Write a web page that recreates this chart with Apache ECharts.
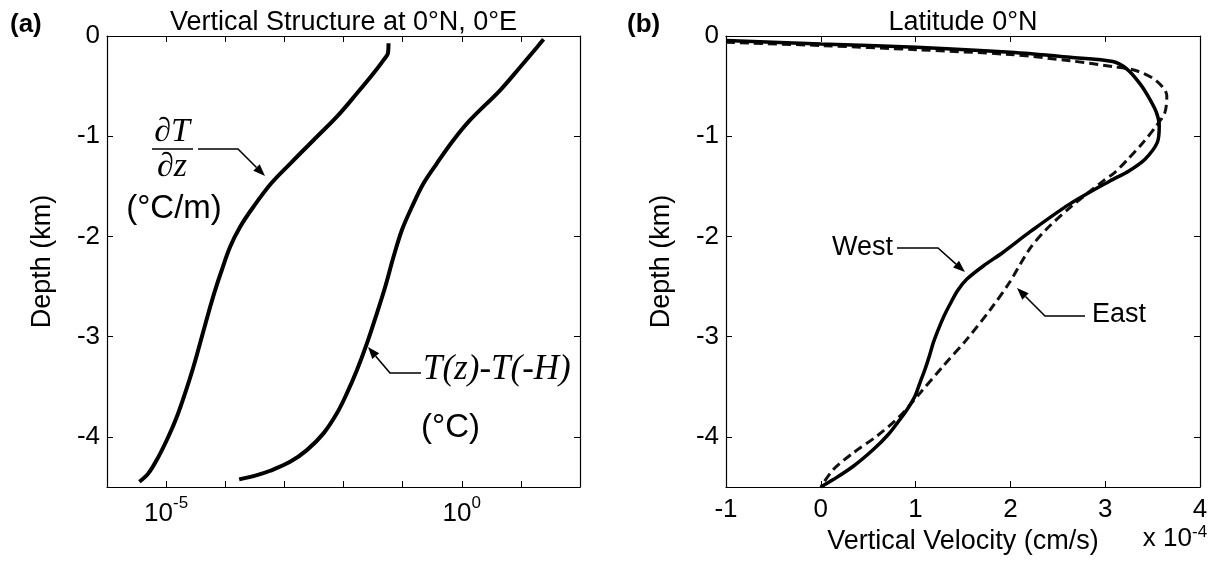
<!DOCTYPE html>
<html>
<head>
<meta charset="utf-8">
<title>Vertical structure and vertical velocity at the equator</title>
<script src="https://cdn.jsdelivr.net/npm/echarts@6/dist/echarts.min.js"></script>
<style>
  html, body { margin: 0; padding: 0; background: #fff; }
  #chart { width: 1217px; height: 565px; }
</style>
</head>
<body>
<div id="chart"></div>
<script>
// ---- Panel (a): vertical structure at 0°N, 0°E (depth in km) ----
const depthGrad = [-0.073, -0.173, -0.240, -0.372, -0.572, -0.805, -1.005, -1.270, -1.470, -1.704,
  -1.903, -2.103, -2.335, -2.535, -2.702, -3.001, -3.300, -3.566, -3.799, -3.999, -4.199, -4.364, -4.448];
// dT/dz in °C/m
const gradT = [5.77e-2, 5.64e-2, 4.75e-2, 3.22e-2, 1.69e-2, 7.73e-3, 3.55e-3, 1.27e-3, 6.0e-4, 3.00e-4,
  1.79e-4, 1.21e-4, 8.75e-5, 6.75e-5, 5.56e-5, 4.02e-5, 2.90e-5, 2.09e-5, 1.52e-5, 1.09e-5, 7.41e-6, 5.01e-6, 3.53e-6];

const depthTemp = [-0.033, -0.110, -0.309, -0.539, -0.838, -1.038, -1.270, -1.470, -1.704, -1.936,
  -2.203, -2.502, -2.767, -3.067, -3.333, -3.566, -3.765, -3.965, -4.132, -4.249, -4.338, -4.381, -4.424];
// T(z) - T(-H) in °C
const deltaT = [24.2, 18.9, 9.77, 4.49, 1.39, 0.726, 0.380, 0.226, 0.144, 0.0973,
  0.0702, 0.0508, 0.0367, 0.0249, 0.0169, 0.0114, 7.73e-3, 4.59e-3, 2.40e-3, 1.25e-3, 5.75e-4, 3.43e-4, 1.72e-4];

// ---- Panel (b): vertical velocity along latitude 0°N (units of 1e-4 cm/s) ----
const depthWest = [-0.045, -0.080, -0.113, -0.163, -0.213, -0.255, -0.330, -0.480, -0.629, -0.762,
  -0.896, -1.062, -1.229, -1.346, -1.446, -1.680, -1.945, -2.160, -2.295, -2.428, -2.544, -2.677,
  -2.794, -2.927, -3.060, -3.194, -3.327, -3.460, -3.593, -3.709, -3.826, -3.976, -4.126, -4.293,
  -4.426, -4.500];
const wWest = [-1.0, 0.0, 1.01, 2.0, 2.63, 3.08, 3.23, 3.37, 3.47, 3.54,
  3.57, 3.55, 3.42, 3.25, 3.05, 2.62, 2.22, 1.92, 1.714, 1.539, 1.44, 1.363,
  1.30, 1.24, 1.187, 1.145, 1.099, 1.046, 0.994, 0.923, 0.835, 0.712, 0.554, 0.343,
  0.132, 0.0];

const depthEast = [-0.063, -0.095, -0.137, -0.185, -0.247, -0.305, -0.347, -0.447, -0.596, -0.762,
  -0.896, -1.062, -1.229, -1.362, -1.446, -1.695, -1.928, -2.128, -2.460, -2.727, -3.027, -3.294,
  -3.559, -3.793, -3.993, -4.159, -4.326, -4.500];
const wEast = [-1.0, 0.0, 1.01, 2.0, 2.63, 3.08, 3.33, 3.54, 3.65, 3.63,
  3.54, 3.40, 3.24, 3.10, 2.98, 2.65, 2.38, 2.20, 1.99, 1.79, 1.54, 1.29,
  1.05, 0.835, 0.59, 0.343, 0.132, 0.0];

// Tick marks and labels
const depthTicks = [0, -1, -2, -3, -4];
const logLabelExponents = [-5, 0];

const SANS = '"Liberation Sans", Arial, Helvetica, sans-serif';
const SERIF = '"Liberation Serif", "Times New Roman", serif';

const GA = { left: 107, top: 36, width: 473, height: 451 };
const GB = { left: 726, top: 36, width: 474, height: 451 };

const zip = (xs, ys) => xs.map((x, i) => [x, ys[i]]);

const tickStyle = { show: true, inside: true, length: 6, lineStyle: { color: '#000', width: 1 } };
const lineStyle = { show: true, onZero: false, lineStyle: { color: '#000', width: 1.2 } };
const labelStyle = { color: '#000', fontSize: 26, fontFamily: SANS };
const nameStyle = { color: '#000', fontSize: 27, fontFamily: SANS };

function depthAxis(gridIndex, position, withLabels) {
  return {
    gridIndex, type: 'value', position, min: -4.5, max: 0,
    axisLine: lineStyle,
    axisTick: Object.assign({}, tickStyle, { customValues: depthTicks }),
    axisLabel: Object.assign({}, labelStyle, { show: withLabels, margin: 7, customValues: depthTicks }),
    splitLine: { show: false },
    name: withLabels ? 'Depth (km)' : '',
    nameLocation: 'middle', nameRotate: 90, nameGap: 51,
    nameTextStyle: nameStyle
  };
}

function logAxis(position, withLabels) {
  return {
    gridIndex: 0, type: 'log', logBase: 10, position, min: 1e-6, max: 1e2, splitNumber: 8,
    axisLine: lineStyle,
    axisTick: tickStyle,
    minorTick: { show: false },
    splitLine: { show: false },
    axisLabel: {
      show: withLabels, margin: 8, color: '#000', fontFamily: SANS,
      formatter: v => {
        const e = Math.round(Math.log10(v));
        return logLabelExponents.includes(e) ? '{b|10}{s|' + e + '}' : '';
      },
      rich: {
        b: { fontSize: 26, fontFamily: SANS, color: '#000', lineHeight: 32, verticalAlign: 'bottom' },
        s: { fontSize: 17, fontFamily: SANS, color: '#000', lineHeight: 17, verticalAlign: 'top' }
      }
    }
  };
}

function velocityAxis(position, withLabels) {
  return {
    gridIndex: 1, type: 'value', position, min: -1, max: 4, interval: 1,
    axisLine: lineStyle,
    axisTick: tickStyle,
    splitLine: { show: false },
    axisLabel: Object.assign({}, labelStyle, { show: withLabels, margin: 10 }),
    name: withLabels ? 'Vertical Velocity (cm/s)' : '',
    nameLocation: 'middle', nameGap: 40,
    nameTextStyle: nameStyle
  };
}

// Callout arrow: polyline ending in a filled head at the last point
function arrow(pts) {
  const n = pts.length;
  const [x1, y1] = pts[n - 2], [x2, y2] = pts[n - 1];
  const L = Math.hypot(x2 - x1, y2 - y1), ux = (x2 - x1) / L, uy = (y2 - y1) / L;
  const hl = 12, hw = 4.5;
  const bx = x2 - ux * hl, by = y2 - uy * hl;
  return [
    { type: 'polyline', silent: true, shape: { points: pts.slice(0, n - 1).concat([[bx, by]]) },
      style: { stroke: '#000', lineWidth: 1.6, fill: null } },
    { type: 'polygon', silent: true, shape: { points: [[x2, y2], [bx - uy * hw, by + ux * hw], [bx + uy * hw, by - ux * hw]] },
      style: { fill: '#000' } }
  ];
}

function label(x, y, text, font, align) {
  return { type: 'text', silent: true, x, y,
    style: { text, font, fill: '#000', align: align || 'center', verticalAlign: 'middle' } };
}

const graphics = [
  label(10, 25, '(a)', 'bold 26px ' + SANS, 'left'),
  label(627, 25, '(b)', 'bold 26px ' + SANS, 'left'),
  label(GA.left + GA.width / 2, 23, 'Vertical Structure at 0°N, 0°E', '27px ' + SANS),
  label(GB.left + GB.width / 2, 23, 'Latitude 0°N', '27px ' + SANS),
  // dT/dz callout
  label(172, 132, '∂T', 'italic 34px ' + SERIF),
  { type: 'line', silent: true, shape: { x1: 152, y1: 149, x2: 193, y2: 149 }, style: { stroke: '#000', lineWidth: 1.6 } },
  label(172, 167, '∂z', 'italic 34px ' + SERIF),
  label(174, 209, '(°C/m)', '33px ' + SANS),
  ...arrow([[198, 149], [238, 149], [265, 176]]),
  // T(z)-T(-H) callout
  label(423, 370, 'T(z)-T(-H)', 'italic 35px ' + SERIF, 'left'),
  label(421, 428, '(°C)', '33px ' + SANS, 'left'),
  ...arrow([[421, 373], [390, 373], [368, 347]]),
  // West / East callouts
  label(893, 248, 'West', '27px ' + SANS, 'right'),
  ...arrow([[897, 248], [938, 248], [965, 272]]),
  label(1092, 315, 'East', '27px ' + SANS, 'left'),
  ...arrow([[1085, 316], [1045, 316], [1017, 288]]),
  // axis multiplier
  label(1192, 539, 'x 10', '26px ' + SANS, 'right'),
  label(1192, 532, '-4', '17px ' + SANS, 'left')
];

const chart = echarts.init(document.getElementById('chart'), null, { renderer: 'canvas' });
chart.setOption({
  animation: false,
  backgroundColor: '#fff',
  grid: [
    Object.assign({ containLabel: false }, GA),
    Object.assign({ containLabel: false }, GB)
  ],
  xAxis: [
    logAxis('bottom', true),
    logAxis('top', false),
    velocityAxis('bottom', true),
    velocityAxis('top', false)
  ],
  yAxis: [
    depthAxis(0, 'left', true),
    depthAxis(0, 'right', false),
    depthAxis(1, 'left', true),
    depthAxis(1, 'right', false)
  ],
  series: [
    { name: 'dT/dz', type: 'line', xAxisIndex: 0, yAxisIndex: 0, data: zip(gradT, depthGrad),
      symbol: 'none', smooth: 0.35, lineStyle: { color: '#000', width: 4 } },
    { name: 'T(z)-T(-H)', type: 'line', xAxisIndex: 0, yAxisIndex: 0, data: zip(deltaT, depthTemp),
      symbol: 'none', smooth: 0.35, lineStyle: { color: '#000', width: 4 } },
    { name: 'East', type: 'line', xAxisIndex: 2, yAxisIndex: 2, data: zip(wEast, depthEast),
      symbol: 'none', smooth: 0.3, lineStyle: { color: '#111', width: 3, type: [9, 5] } },
    { name: 'West', type: 'line', xAxisIndex: 2, yAxisIndex: 2, data: zip(wWest, depthWest),
      symbol: 'none', smooth: 0.3, lineStyle: { color: '#000', width: 3.5 } }
  ],
  graphic: graphics
});
</script>
</body>
</html>
